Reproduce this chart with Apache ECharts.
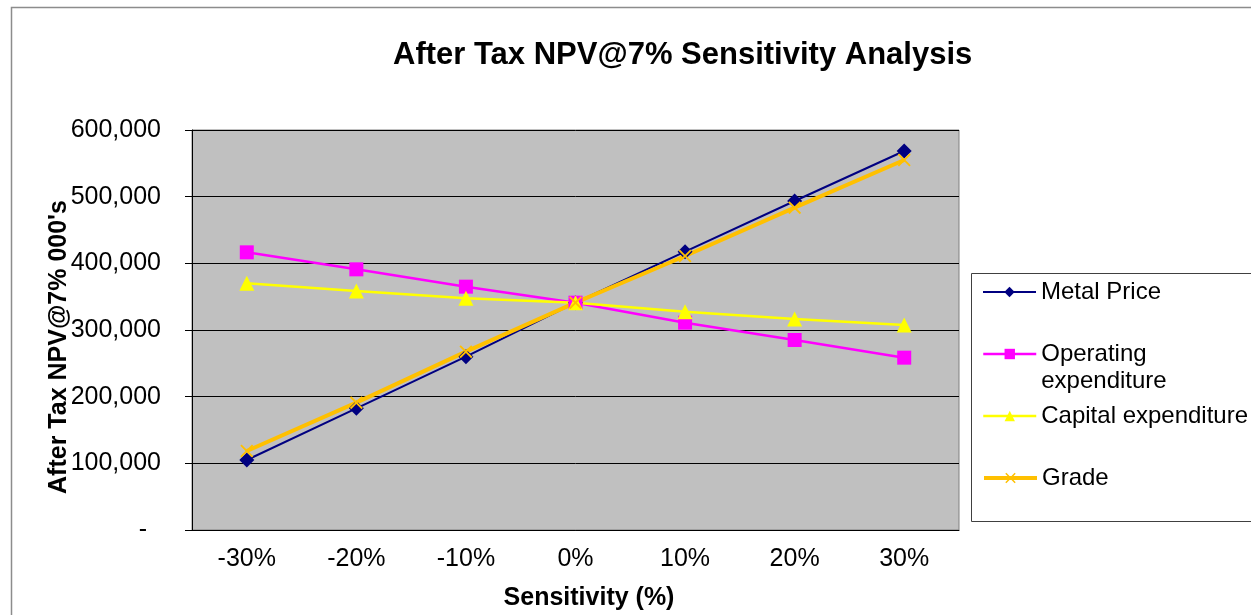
<!DOCTYPE html>
<html>
<head>
<meta charset="utf-8">
<script src="https://cdn.jsdelivr.net/npm/echarts@6/dist/echarts.min.js"></script>
<style>
  html, body { margin: 0; padding: 0; background: #fff; }
  #chart { width: 1251px; height: 615px; }
</style>
</head>
<body>
<div id="chart"></div>
<script>
var categories = ['-30%', '-20%', '-10%', '0%', '10%', '20%', '30%']
var metalPrice = [105000, 182500, 260000, 341000, 417500, 493500, 568500]
var operatingExp = [416500, 391000, 365000, 341000, 311000, 285000, 258500]
var capitalExp = [370000, 358500, 347500, 341000, 327500, 316500, 307500]
var grade = [118500, 191000, 267500, 341000, 411000, 483500, 555000]
var yTicks = [0, 100000, 200000, 300000, 400000, 500000, 600000]

var font = 'Liberation Sans, Arial, sans-serif'
var crossPath = 'path://M0,1L1,0L5,4L9,0L10,1L6,5L10,9L9,10L5,6L1,10L0,9L4,5Z'

var chart = echarts.init(document.getElementById('chart'))

// one legend per series so each row sits where the original has it
function legendAt (name, top, lineWidth, formatter) {
  var l = {
    data: [name],
    left: 982,
    top: top,
    padding: 0,
    itemWidth: 53,
    itemHeight: 13,
    lineStyle: { width: lineWidth },
    textStyle: { fontFamily: font, fontSize: 24, color: '#000', lineHeight: 27 }
  }
  if (formatter) l.formatter = formatter
  return l
}

var option = {
  backgroundColor: '#fff',
  animation: false,
  title: {
    text: 'After Tax NPV@7% Sensitivity Analysis',
    left: 388,
    top: 35,
    textStyle: { fontFamily: font, fontSize: 31, fontWeight: 'bold', color: '#000' }
  },
  graphic: [
    {
      type: 'rect',
      shape: { x: 11.5, y: 7.5, width: 1400, height: 800 },
      style: { fill: 'none', stroke: '#8c8c8c', lineWidth: 1.5 },
      silent: true
    },
    {
      type: 'rect',
      shape: { x: 971.5, y: 273.5, width: 400, height: 248 },
      style: { fill: 'none', stroke: '#404040', lineWidth: 1 },
      silent: true
    },
    {
      type: 'text',
      x: 59,
      y: 347,
      rotation: Math.PI / 2,
      style: {
        text: "After Tax NPV@7% 000's",
        font: 'bold 25px ' + font,
        fill: '#000',
        align: 'center',
        verticalAlign: 'middle'
      }
    },
    {
      type: 'text',
      x: 589,
      y: 598,
      style: {
        text: 'Sensitivity (%)',
        font: 'bold 25px ' + font,
        fill: '#000',
        align: 'center',
        verticalAlign: 'middle'
      }
    }
  ],
  legend: [
    legendAt('Metal Price', 278.5, 2),
    legendAt('Operating expenditure', 313.5, 2.5, '\nOperating\nexpenditure'),
    legendAt('Capital expenditure', 402.5, 2.5),
    legendAt('Grade', 464.5, 4)
  ],
  grid: {
    left: 192,
    right: 292,
    top: 130,
    bottom: 85,
    show: true,
    backgroundColor: '#C0C0C0',
    borderColor: '#808080',
    borderWidth: 1,
    containLabel: false,
    outerBoundsMode: 'none'
  },
  xAxis: {
    type: 'category',
    data: categories,
    boundaryGap: true,
    axisLine: { lineStyle: { color: '#000', width: 1 } },
    axisTick: { length: 7, lineStyle: { color: '#000' } },
    axisLabel: { fontFamily: font, fontSize: 25, color: '#000', margin: 17 },
    splitLine: { show: false }
  },
  yAxis: {
    type: 'value',
    min: yTicks[0],
    max: yTicks[yTicks.length - 1],
    interval: yTicks[1] - yTicks[0],
    axisLine: { show: true, lineStyle: { color: '#000', width: 1 } },
    axisTick: { show: true, length: 7, lineStyle: { color: '#000' } },
    axisLabel: {
      fontFamily: font,
      fontSize: 25,
      color: '#000',
      margin: 31,
      formatter: function (v) {
        return v === 0 ? '-  ' : v.toLocaleString('en-US')
      }
    },
    splitLine: { lineStyle: { color: '#000', width: 1 } }
  },
  series: [
    {
      name: 'Metal Price',
      type: 'line',
      data: metalPrice,
      symbol: 'diamond',
      symbolSize: 15,
      color: '#000080',
      lineStyle: { width: 2, color: '#000080' },
      itemStyle: { color: '#000080' }
    },
    {
      name: 'Operating expenditure',
      type: 'line',
      data: operatingExp,
      symbol: 'rect',
      symbolSize: 14,
      color: '#FF00FF',
      lineStyle: { width: 2.5, color: '#FF00FF' },
      itemStyle: { color: '#FF00FF' }
    },
    {
      name: 'Capital expenditure',
      type: 'line',
      data: capitalExp,
      symbol: 'triangle',
      symbolSize: 15,
      color: '#FFFF00',
      lineStyle: { width: 2.5, color: '#FFFF00' },
      itemStyle: { color: '#FFFF00' }
    },
    {
      name: 'Grade',
      type: 'line',
      data: grade,
      symbol: crossPath,
      symbolSize: 13,
      color: '#FFC000',
      lineStyle: { width: 4, color: '#FFC000' },
      itemStyle: { color: '#FFC000' }
    }
  ]
}

chart.setOption(option)
</script>
</body>
</html>
